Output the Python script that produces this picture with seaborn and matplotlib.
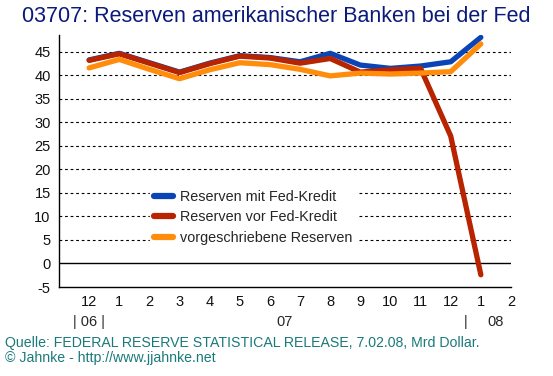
import numpy as np
import pandas as pd
import matplotlib
matplotlib.use("Agg")
import matplotlib.pyplot as plt
import matplotlib.transforms as mtrans
import seaborn as sns

# Monatswerte 12/2006 - 01/2008, Mrd Dollar
months = ["12", "1", "2", "3", "4", "5", "6", "7", "8", "9", "10", "11", "12", "1", "2"]
mit_fed = [43.3, 44.7, 42.7, 40.7, 42.6, 44.2, 43.8, 42.9, 44.7, 42.2, 41.5, 42.0, 42.9, 48.1]
vor_fed = [43.2, 44.6, 42.6, 40.6, 42.5, 44.1, 43.7, 42.6, 43.6, 40.7, 41.2, 41.5, 27.1, -2.4]
vorgeschrieben = [41.6, 43.4, 41.3, 39.3, 41.2, 42.7, 42.3, 41.3, 39.9, 40.5, 40.3, 40.5, 40.8, 46.7]
series_names = ["Reserven mit Fed-Kredit", "Reserven vor Fed-Kredit", "vorgeschriebene Reserven"]
colors = ["#0B45B5", "#B82300", "#FF8C0A"]

df = pd.DataFrame({
    "idx": list(range(len(mit_fed))) * 3,
    "wert": mit_fed + vor_fed + vorgeschrieben,
    "serie": [series_names[0]] * len(mit_fed) + [series_names[1]] * len(vor_fed)
             + [series_names[2]] * len(vorgeschrieben),
})

sns.set_style("white")
plt.rcParams["font.family"] = ["Liberation Sans", "DejaVu Sans"]

fig = plt.figure(figsize=(5.53, 3.76), dpi=100)
ax = fig.add_axes([0.1067, 0.2367, 0.8173, 0.669])

# gridlines
for v in range(5, 50, 5):
    ax.axhline(v, color="black", lw=0.8, ls=(0, (2.5, 2.5)), zorder=1)
ax.axhline(0, color="black", lw=1.0, zorder=1)

sns.lineplot(data=df, x="idx", y="wert", hue="serie", hue_order=series_names,
             palette=colors, lw=3.8, ax=ax, legend=True,
             solid_capstyle="round", solid_joinstyle="round")
# blue on top, then red, then orange
lines = ax.get_lines()[-3:]
for ln, z in zip(lines, [5, 4, 3]):
    ln.set_zorder(z)

ax.set_xlim(-1, 14)
ax.set_ylim(-5, 48.5)
ax.set_yticks(range(-5, 50, 5))
ax.set_yticklabels([str(v) for v in range(-5, 50, 5)], fontsize=10.5, color="#111111")
ax.set_xticks(range(len(months)))
ax.set_xticklabels(months, fontsize=10.5, color="#111111")
ax.tick_params(axis="both", length=0, pad=6)
ax.tick_params(axis="x", pad=6)
ax.set_xlabel("")
ax.set_ylabel("")
for s in ["top", "right"]:
    ax.spines[s].set_visible(False)
for s in ["left", "bottom"]:
    ax.spines[s].set_color("black")
    ax.spines[s].set_linewidth(1.0)

# second row of x labels (years)
trans = mtrans.blended_transform_factory(ax.transData, ax.transAxes)
yr = -0.14
ax.text(0, yr, "| 06 |", transform=trans, ha="center", va="center", fontsize=10.5)
ax.text(6.5, yr, "07", transform=trans, ha="center", va="center", fontsize=10.5)
ax.text(12.5, yr, "|", transform=trans, ha="center", va="center", fontsize=10.5)
ax.text(13.5, yr, "08", transform=trans, ha="center", va="center", fontsize=10.5)

leg = ax.legend(loc="center left", bbox_to_anchor=(0.185, 0.278), frameon=True,
                fontsize=10.4, handlelength=1.3, handletextpad=0.5, labelspacing=0.45,
                borderpad=0.3, fancybox=False, edgecolor="white", framealpha=1)
for h in leg.get_lines():
    h.set_linewidth(4.5)

fig.text(0.5, 0.955, "03707: Reserven amerikanischer Banken bei der Fed",
         ha="center", va="center", fontsize=15.5, color="#0A1A7A")
fig.text(0.009, 0.088, "Quelle: FEDERAL RESERVE STATISTICAL RELEASE, 7.02.08, Mrd Dollar.",
         ha="left", va="center", fontsize=10.2, color="#1A7A7A")
fig.text(0.009, 0.047, "\u00a9 Jahnke - http://www.jjahnke.net",
         ha="left", va="center", fontsize=10.2, color="#1A7A7A")

fig.savefig("out.png", dpi=100)
